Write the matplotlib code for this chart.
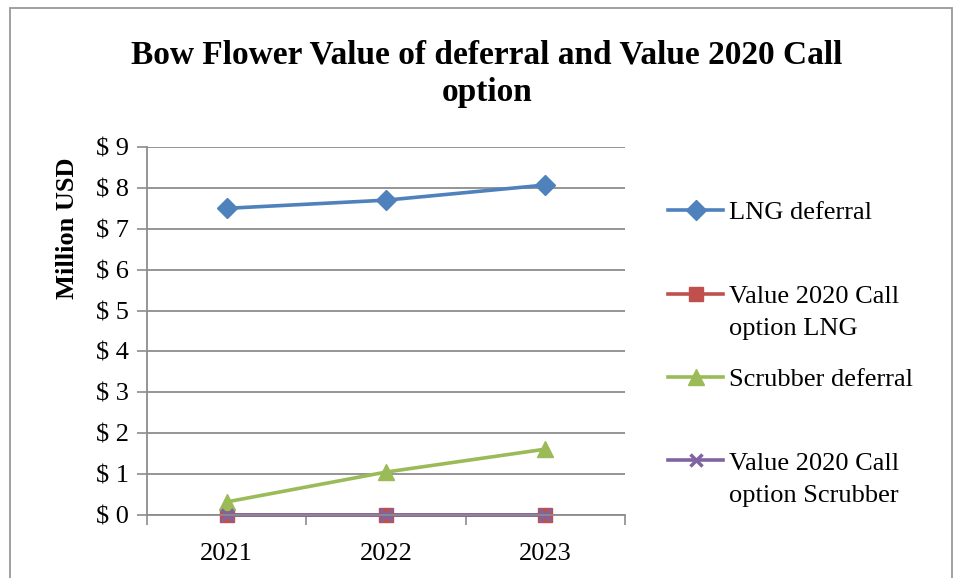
import matplotlib
matplotlib.use("Agg")
import matplotlib.pyplot as plt
from matplotlib.patches import Rectangle
from matplotlib.ticker import FixedLocator, FuncFormatter

years = ["2021", "2022", "2023"]
lng_deferral = [7.50, 7.70, 8.07]
call_lng = [0.0, 0.0, 0.0]
scrubber_deferral = [0.32, 1.05, 1.61]
call_scrubber = [0.0, 0.0, 0.0]
y_ticks = list(range(0, 10))

series = [
    ("LNG deferral", lng_deferral, "#4F81BD", "D", 10),
    ("Value 2020 Call\noption LNG", call_lng, "#C0504D", "s", 10),
    ("Scrubber deferral", scrubber_deferral, "#9BBB59", "^", 11),
    ("Value 2020 Call\noption Scrubber", call_scrubber, "#8064A2", "x", 9),
]

plt.rcParams["font.family"] = ["Liberation Serif", "DejaVu Serif"]
FS = 19

W, H = 957, 578
fig = plt.figure(figsize=(W / 100, H / 100), dpi=100)
ax = fig.add_axes([147 / W, 1 - 515 / H, (625 - 147) / W, (515 - 147) / H])

x = list(range(len(years)))
handles = []
for label, vals, color, marker, ms in series:
    kw = dict(markeredgecolor=color, markerfacecolor=color)
    if marker == "x":
        kw["markeredgewidth"] = 2.5
    (h,) = ax.plot(x, vals, color=color, lw=2.6, marker=marker, markersize=ms,
                   label=label.split("\n")[0], clip_on=False, **kw)
    handles.append(h)

grid_c = "#8c8c8c"
ax.set_xlim(-0.5, len(years) - 0.5)
ax.set_ylim(0, 9)
ax.yaxis.set_major_locator(FixedLocator(y_ticks))
ax.yaxis.set_major_formatter(FuncFormatter(lambda v, p: f"$ {int(v)}"))
ax.set_xticks(x)
ax.set_xticklabels(years)
ax.set_xticks([i - 0.5 for i in range(len(years) + 1)], minor=True)
ax.tick_params(axis="x", which="major", length=0, labelsize=FS, pad=20)
ax.tick_params(axis="x", which="minor", length=7, width=1.2, color=grid_c)
ax.tick_params(axis="y", length=7, width=1.2, color=grid_c, labelsize=FS, pad=6)
ax.grid(axis="y", color=grid_c, lw=1.3)
ax.set_axisbelow(True)
for s in ["top", "right"]:
    ax.spines[s].set_visible(False)
for s in ["left", "bottom"]:
    ax.spines[s].set_color(grid_c)
    ax.spines[s].set_linewidth(1.3)

ax.set_ylabel("Million USD", fontsize=FS, fontweight="bold", labelpad=8)
ax.yaxis.set_label_coords(-0.142, (515 - 228) / (515 - 147))

fig.text(487 / W, 1 - 74 / H, "Bow Flower Value of deferral and Value 2020 Call\noption",
         ha="center", va="center", fontsize=24, fontweight="bold", linespacing=1.25)

leg = fig.legend(handles=handles, loc="upper left", bbox_to_anchor=(668 / W, 1 - 201 / H),
                 frameon=False, fontsize=FS, handlelength=2.1, handletextpad=0.2,
                 labelspacing=2.27, borderpad=0, borderaxespad=0)

# second lines of the two-line legend labels, placed under their first lines
fig.canvas.draw()
r = fig.canvas.get_renderer()
for (label, *_), t in zip(series, leg.get_texts()):
    if "\n" in label:
        bb = t.get_window_extent(r)
        fig.text(bb.x0 / W, (bb.y0 - 32) / H, label.split("\n")[1], fontsize=FS,
                 ha="left", va="bottom")

# chart area border
fig.add_artist(Rectangle((10 / W, -0.05), (952 - 10) / W, 1.05 - 8 / H,
                         transform=fig.transFigure, fill=False, ec="#999999", lw=1.3))

fig.savefig("out.png", dpi=100)
